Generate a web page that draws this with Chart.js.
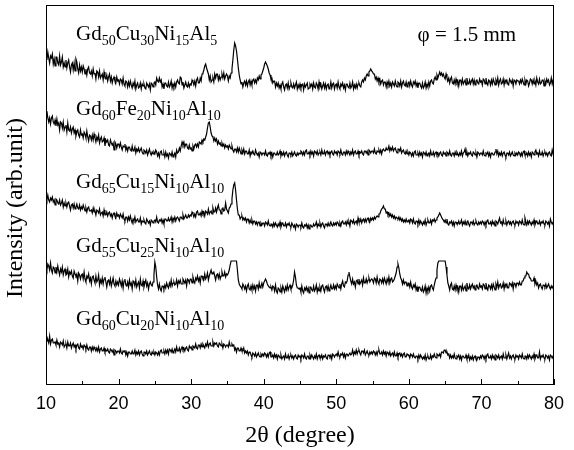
<!DOCTYPE html>
<html>
<head>
<meta charset="utf-8">
<script src="https://cdn.jsdelivr.net/npm/chart.js@4.4.1/dist/chart.umd.min.js"></script>
<style>
html,body{margin:0;padding:0;background:#fff;}
#wrap{width:574px;height:450px;}
</style>
</head>
<body>
<div id="wrap"><canvas id="c" width="574" height="450"></canvas></div>
<script>
// 2θ sampling grid (degrees): start and step of the scan
const scanStart = 10, scanStep = 0.125, scanPoints = 561;
const xTicks = [10, 20, 30, 40, 50, 60, 70, 80];

const sampleNames = [
  [["Gd",0],["50",1],["Cu",0],["30",1],["Ni",0],["15",1],["Al",0],["5",1]],
  [["Gd",0],["60",1],["Fe",0],["20",1],["Ni",0],["10",1],["Al",0],["10",1]],
  [["Gd",0],["65",1],["Cu",0],["15",1],["Ni",0],["10",1],["Al",0],["10",1]],
  [["Gd",0],["55",1],["Cu",0],["25",1],["Ni",0],["10",1],["Al",0],["10",1]],
  [["Gd",0],["60",1],["Cu",0],["20",1],["Ni",0],["10",1],["Al",0],["10",1]]
];

// Intensities (arb. units, stacked offsets), one value per grid point, 40 per 5 degrees
const gd50cu30 = [
330,325,333,327,322,329,327,331,321,326,319,328,328,322,320,329,320,323,328,318,
322,318,325,317,322,325,318,313,320,322,315,322,314,326,323,316,312,320,314,318,
313,319,316,311,316,310,316,318,312,311,314,309,316,311,312,306,314,313,308,314,
307,309,311,305,313,307,306,310,304,308,311,304,308,302,306,308,304,302,308,304,
305,301,306,305,301,307,301,299,304,303,298,303,299,304,300,297,302,299,304,296,
300,302,297,298,302,296,301,299,301,297,296,302,300,298,301,295,302,301,298,302,
303,300,307,304,303,307,303,305,298,301,296,302,302,299,298,303,298,300,304,297,
301,298,302,298,303,305,302,301,308,307,300,303,297,300,303,299,298,302,298,301,
300,305,303,300,304,299,305,307,302,302,307,304,311,312,315,319,321,317,314,311,
305,309,303,305,307,303,311,307,311,311,305,309,305,308,311,307,312,306,309,311,
309,304,309,307,312,316,325,335,342,339,334,326,317,310,305,301,303,298,302,304,
300,304,299,303,305,300,304,300,305,306,302,305,302,307,305,309,306,310,311,314,
317,321,323,321,319,316,312,310,306,307,302,304,304,298,302,299,302,297,300,296,
301,303,298,295,300,301,297,302,296,299,302,298,297,301,297,300,303,296,300,297,
301,297,300,301,295,301,298,300,302,296,297,301,299,301,296,302,298,297,302,300,
296,303,298,301,296,299,302,297,301,296,300,301,296,298,303,297,301,302,296,300,
301,297,303,298,296,301,299,302,297,300,295,301,301,298,297,302,297,299,303,296,
300,297,301,297,301,302,299,298,303,305,303,307,305,309,311,309,313,314,316,314,
313,311,311,306,308,304,307,303,306,301,304,305,300,303,303,298,303,300,304,299,
302,298,303,301,299,304,300,298,303,302,299,304,298,302,304,300,299,303,298,302,
303,299,304,300,298,303,301,304,299,302,297,302,302,299,297,302,297,299,303,297,
301,298,303,299,304,305,302,301,306,308,305,310,307,310,313,310,312,309,311,308,
306,311,307,304,307,302,306,308,302,301,305,301,306,302,304,299,305,305,301,306,
301,303,305,300,307,302,301,305,301,304,306,301,305,300,304,305,302,301,306,303,
304,300,306,305,301,307,302,300,305,304,300,305,301,306,303,300,305,302,307,300,
304,306,301,302,306,300,305,303,305,301,300,306,304,302,305,299,305,304,301,305,
304,304,301,305,302,306,303,300,305,301,305,304,299,302,306,305,301,305,301,304,
300,307,303,301,306,301,302,305,305,299,304,301,306,303,305,300,302,307,301,305,
302];

const gd60fe20 = [
270,274,267,263,267,261,267,269,263,261,265,259,266,260,262,255,263,262,257,263,
255,258,260,253,262,255,254,258,252,256,258,252,255,249,253,255,250,248,255,250,
251,247,253,251,247,254,248,244,250,249,245,250,245,251,247,243,248,245,250,242,
246,248,243,244,247,239,245,243,245,240,239,245,242,240,242,235,243,241,237,241,
241,238,242,238,235,239,238,241,235,238,234,238,238,235,234,239,234,235,238,232,
236,234,237,233,235,237,233,231,235,234,232,235,230,233,236,232,230,233,231,233,
231,235,233,229,232,228,233,234,230,230,232,228,233,229,231,227,232,231,229,233,
228,230,232,228,235,232,233,237,234,239,243,240,243,238,241,241,237,236,240,236,
237,234,239,236,240,241,238,241,238,243,242,241,245,243,246,245,248,251,257,262,
263,258,252,249,248,244,247,244,246,241,244,241,242,239,242,239,241,237,240,238,
239,236,240,238,236,239,235,233,236,236,233,237,233,237,234,231,235,232,236,231,
234,234,231,231,235,229,233,232,234,231,230,235,232,230,232,228,233,232,230,232,
232,230,234,230,229,232,231,233,229,232,228,232,232,230,230,233,230,231,234,229,
232,230,233,229,232,233,230,228,232,232,230,233,229,231,233,230,229,232,230,232,
231,234,233,230,233,230,234,235,231,231,233,230,234,231,233,229,234,233,231,234,
230,232,233,230,235,231,231,234,230,233,234,231,233,230,233,234,231,230,234,232,
233,230,234,233,231,235,231,230,233,233,230,234,231,234,232,230,233,231,235,230,
233,234,231,231,234,230,233,232,234,231,230,234,234,232,234,230,235,234,232,234,
234,232,236,232,231,234,233,235,232,235,231,235,236,234,234,237,235,236,239,234,
237,235,238,234,236,237,234,232,236,236,234,237,232,234,235,232,231,234,231,233,
230,233,232,229,232,229,233,234,230,230,232,229,233,230,232,228,233,232,230,233,
229,231,232,229,234,230,230,233,229,232,233,230,232,229,232,233,230,229,233,231,
232,229,233,232,230,234,230,229,232,232,229,233,230,233,231,229,232,230,234,229,
232,233,236,230,233,229,232,231,233,230,229,233,232,230,232,228,233,232,230,232,
232,230,234,230,229,232,231,233,229,232,228,232,232,230,230,233,236,231,234,229,
232,230,233,229,232,233,230,228,232,232,230,233,229,231,233,230,229,232,230,232,
230,233,232,229,232,229,233,234,230,230,232,229,233,230,232,228,233,232,230,233,
235,231,232,229,234,230,230,233,229,232,233,230,232,229,232,233,230,229,235,231,
234];

const gd65cu15 = [
189,185,190,185,183,187,185,188,183,185,180,186,185,182,181,185,180,182,185,178,
182,179,182,178,182,183,179,175,180,181,177,181,176,178,181,177,176,180,175,178,
176,180,177,174,177,173,177,178,174,174,175,172,177,173,174,170,175,174,172,176,
170,172,173,169,175,170,170,173,169,172,173,169,171,167,171,172,169,167,172,169,
170,167,171,169,167,171,166,164,168,168,164,168,165,169,165,162,166,164,168,163,
165,166,163,163,167,161,164,163,165,162,161,166,164,162,164,160,165,164,162,164,
165,163,168,163,162,165,164,166,162,165,161,166,166,164,164,167,164,165,168,163,
167,165,168,164,167,168,166,164,168,168,166,170,166,168,170,167,167,170,168,170,
169,173,171,168,171,168,173,174,170,170,172,169,174,171,173,169,174,173,171,176,
171,173,174,171,177,173,173,177,173,177,180,175,175,171,176,177,174,175,182,176,
174,172,177,178,181,186,195,200,202,195,185,176,170,170,166,168,169,165,167,165,
167,163,166,166,162,165,162,165,161,164,164,161,163,160,163,163,159,162,160,162,
162,159,163,162,160,164,160,159,161,161,158,162,159,162,160,158,161,159,163,158,
161,162,159,159,162,158,161,160,162,159,158,162,160,158,160,156,161,160,158,160,
160,158,162,158,157,160,159,161,157,160,156,160,160,158,158,161,159,160,163,158,
161,159,162,158,161,162,159,157,161,161,159,162,159,161,163,160,159,162,160,162,
160,163,162,159,162,159,163,164,161,161,163,160,164,161,163,159,165,164,162,165,
161,163,164,161,167,163,163,166,162,165,166,163,166,163,166,167,164,163,167,165,
167,165,168,166,168,169,168,171,171,174,176,177,179,176,176,172,173,170,172,169,
171,168,170,167,169,166,168,167,166,168,165,167,164,166,163,165,163,166,163,164,
165,162,166,165,162,166,162,161,164,164,161,165,161,164,162,160,163,161,165,160,
163,165,162,162,165,161,165,164,166,163,165,167,168,170,172,170,168,166,165,163,
165,162,166,161,160,163,162,164,160,163,159,163,163,161,161,164,161,162,165,160,
163,161,164,160,163,164,161,159,163,163,161,164,160,162,164,161,160,163,161,163,
161,164,163,160,163,160,164,165,161,161,163,160,164,161,163,159,164,163,161,164,
167,162,163,160,165,161,161,164,160,163,164,161,163,160,163,164,161,160,164,162,
163,160,164,163,161,165,161,160,167,163,160,164,161,164,162,160,163,161,165,160,
163,164,161,161,164,160,163,162,164,161,160,164,163,161,163,159,166,163,161,163,
164];

const gd55cu25 = [
119,115,121,119,115,122,115,112,118,117,112,118,113,119,114,110,116,113,118,110,
114,116,110,111,116,108,113,111,114,109,107,114,111,109,111,104,112,110,106,110,
111,106,113,106,103,109,107,111,104,107,101,108,109,105,102,109,103,105,110,100,
105,102,107,101,106,108,103,98,104,105,101,106,99,103,107,101,99,104,100,103,
100,106,103,99,104,97,104,106,100,99,103,98,105,100,102,96,104,103,99,105,
98,101,103,97,106,100,99,104,98,102,105,99,102,96,101,103,100,99,103,110,
123,118,108,100,96,101,96,94,99,99,96,100,97,102,99,97,102,99,105,99,
102,103,100,101,105,99,104,102,105,101,101,106,104,102,105,99,106,105,102,106,
106,102,108,104,102,107,105,109,104,107,102,109,109,106,105,111,106,108,112,105,
109,112,115,111,112,113,109,105,110,111,107,111,106,109,113,109,109,113,108,111,
110,112,115,120,124,124,124,124,124,124,124,115,105,101,99,98,96,101,99,96,
99,94,99,101,96,95,99,95,100,96,99,94,100,100,96,102,97,99,102,98,
102,104,106,104,101,99,98,97,98,95,99,98,94,100,94,92,97,96,93,97,
93,99,96,93,98,95,100,95,98,100,96,97,100,105,113,108,100,97,97,96,
97,93,99,94,92,97,95,98,94,97,92,98,98,95,94,99,94,96,100,93,
97,94,98,94,99,100,96,93,98,99,95,99,94,97,100,96,96,100,96,99,
96,101,99,97,101,96,101,104,99,98,103,102,104,110,113,108,104,101,106,101,
103,98,104,105,101,106,101,103,105,100,107,102,102,106,102,105,107,103,105,106,
105,102,107,106,102,108,103,101,106,105,102,106,102,107,104,101,106,103,108,102,
106,107,103,104,106,109,112,118,121,117,111,107,105,101,105,101,103,103,99,102,
102,98,103,98,96,100,98,101,95,98,93,98,98,95,94,98,93,95,99,92,
97,94,98,94,99,100,97,95,100,104,107,115,122,124,124,124,124,124,124,124,
124,118,110,102,99,95,100,102,96,95,99,95,100,96,98,93,99,99,95,100,
95,97,99,94,102,97,96,100,96,99,101,97,99,95,99,100,97,96,101,98,
99,96,101,100,96,102,97,95,100,99,96,100,96,101,98,95,101,98,103,97,
100,101,97,98,102,96,101,99,101,97,97,102,101,99,102,96,102,101,98,102,
102,100,103,100,100,104,104,107,109,109,113,111,111,107,107,104,104,104,107,101,
104,100,102,97,100,101,98,96,100,100,98,101,97,99,101,98,96,99,97,99,
98];

const gd60cu20 = [
44,48,45,42,49,41,45,46,42,42,43,40,45,41,42,38,43,42,40,44,
38,40,41,37,43,39,39,42,37,40,42,38,40,36,40,41,37,36,41,38,
39,36,40,39,36,40,36,35,38,38,34,38,35,38,36,34,37,34,38,33,
36,37,34,34,37,33,35,34,36,33,32,36,35,33,35,30,35,34,32,34,
34,32,36,32,31,34,33,35,30,33,29,33,33,31,31,34,31,32,35,30,
33,31,34,30,33,34,31,29,33,33,31,34,30,32,34,31,30,33,31,33,
30,33,32,30,33,30,34,35,32,32,34,31,35,32,35,31,36,35,33,36,
32,34,36,33,38,34,34,37,33,36,38,35,37,34,37,38,35,34,39,37,
38,35,39,38,37,41,37,36,40,40,37,41,38,41,39,37,41,39,43,38,
41,42,39,39,43,39,42,41,42,39,38,42,41,39,41,37,41,40,38,40,
40,38,43,39,39,41,39,40,35,37,33,37,37,34,34,37,34,34,37,32,
34,32,34,30,33,33,30,28,32,31,29,32,28,30,32,29,28,31,29,31,
29,32,31,28,31,28,32,33,28,28,30,27,31,28,30,26,30,29,27,30,
26,28,29,26,31,27,27,30,26,29,30,27,29,26,29,30,27,26,30,28,
29,26,30,29,27,31,27,26,29,29,26,30,27,30,28,26,29,27,31,26,
29,30,27,27,30,26,29,28,30,27,26,30,30,28,30,26,31,30,28,30,
31,29,33,29,28,31,30,32,28,31,27,31,31,29,29,32,30,31,35,30,
33,31,35,31,34,35,32,30,34,34,32,35,30,32,34,31,30,33,31,33,
31,34,33,30,33,30,34,35,31,31,33,30,34,31,33,29,33,32,30,33,
29,31,32,29,33,29,29,32,28,31,32,29,31,28,31,32,28,28,31,30,
30,27,31,30,28,31,28,27,29,29,26,30,27,30,28,26,28,26,30,25,
28,29,26,26,30,26,29,28,31,28,27,31,30,29,31,28,33,33,32,35,
35,32,33,30,31,27,30,27,29,27,31,27,26,29,28,30,26,29,25,29,
29,27,27,30,26,27,30,25,28,26,29,25,28,29,26,25,28,28,26,29,
27,30,29,26,29,26,30,31,27,27,29,26,30,27,29,25,30,29,27,30,
26,28,29,26,31,27,27,30,26,29,32,27,29,26,29,30,27,26,30,28,
29,26,30,29,27,31,27,26,29,29,26,30,27,30,28,26,29,27,31,26,
29,30,27,27,33,26,29,28,30,27,26,30,29,27,29,25,30,29,27,29,
28];

const seriesList = [gd50cu30, gd60fe20, gd65cu15, gd55cu25, gd60cu20];

// ---------- presentation ----------
const twoTheta = [];
for (let i = 0; i < scanPoints; i++) twoTheta.push(scanStart + i * scanStep);

const labelAnchors = [ // [2θ, intensity] of each label's left baseline
  [14.15, 345], [14.15, 270], [14.15, 197], [14.15, 133], [14.15, 60]
];
const yTitle = 'Intensity (arb.unit)';
const serif = "'Liberation Serif', 'Times New Roman', Times, serif";
const sans = "Arial, 'Liberation Sans', Helvetica, sans-serif";

const framePlugin = {
  id: 'frame',
  afterDatasetsDraw(chart) {
    const {ctx, chartArea: a, scales} = chart;
    ctx.save();
    ctx.strokeStyle = '#000';
    ctx.lineWidth = 1;
    ctx.strokeRect(a.left + 0.5, a.top + 0.5, a.right - a.left - 1, a.bottom - a.top - 1);
    const xs = scales.x;
    for (let v = xs.min; v <= xs.max + 1e-9; v += 5) {
      const px = Math.round(xs.getPixelForValue(v)) + 0.5;
      const len = (Math.round(v) % 10 === 0) ? 6 : 4;
      ctx.beginPath();
      ctx.moveTo(px, a.bottom);
      ctx.lineTo(px, a.bottom - len);
      ctx.stroke();
    }
    ctx.fillStyle = '#000';
    ctx.textBaseline = 'alphabetic';
    sampleNames.forEach((parts, k) => {
      let x = xs.getPixelForValue(labelAnchors[k][0]);
      const y = scales.y.getPixelForValue(labelAnchors[k][1]);
      parts.forEach(([t, sub]) => {
        ctx.font = sub ? `14px ${serif}` : `21px ${serif}`;
        ctx.fillText(t, x, sub ? y + 5 : y);
        x += ctx.measureText(t).width;
      });
    });
    ctx.font = `21px ${serif}`;
    ctx.fillText('\u03c6 = 1.5 mm', xs.getPixelForValue(61.2), scales.y.getPixelForValue(344));
    ctx.font = `24px ${serif}`;
    ctx.textAlign = 'center';
    ctx.textBaseline = 'middle';
    ctx.translate(16, 208);
    ctx.rotate(-Math.PI / 2);
    ctx.fillText(yTitle, 0, 0);
    ctx.restore();
  }
};

new Chart(document.getElementById('c'), {
  type: 'line',
  data: {
    datasets: seriesList.map((s, k) => ({
      label: sampleNames[k].map(p => p[0]).join(''),
      data: s.map((v, i) => ({x: twoTheta[i], y: v})),
      borderColor: '#000',
      borderWidth: 1.2,
      pointRadius: 0,
      tension: 0,
      fill: false
    }))
  },
  options: {
    responsive: false,
    animation: false,
    devicePixelRatio: 1,
    layout: {padding: {left: 0, top: 5, right: 20, bottom: 0}},
    plugins: {legend: {display: false}, tooltip: {enabled: false}},
    scales: {
      x: {
        type: 'linear',
        min: 10, max: 80,
        afterBuildTicks(scale) { scale.ticks = xTicks.map(v => ({value: v})); },
        afterFit(scale) { scale.height = 65; },
        grid: {display: false, drawTicks: false},
        border: {display: false},
        ticks: {color: '#000', font: {family: sans, size: 18}, padding: 8, maxRotation: 0},
        title: {display: true, text: '2θ (degree)', color: '#000', font: {family: serif, size: 24}, padding: {top: 4, bottom: 0}}
      },
      y: {
        type: 'linear',
        min: 0, max: 380,
        afterFit(scale) { scale.width = 46; },
        grid: {display: false, drawTicks: false},
        border: {display: false},
        ticks: {display: false},
        title: {display: false, text: yTitle}
      }
    }
  },
  plugins: [framePlugin]
});
</script>
</body>
</html>
